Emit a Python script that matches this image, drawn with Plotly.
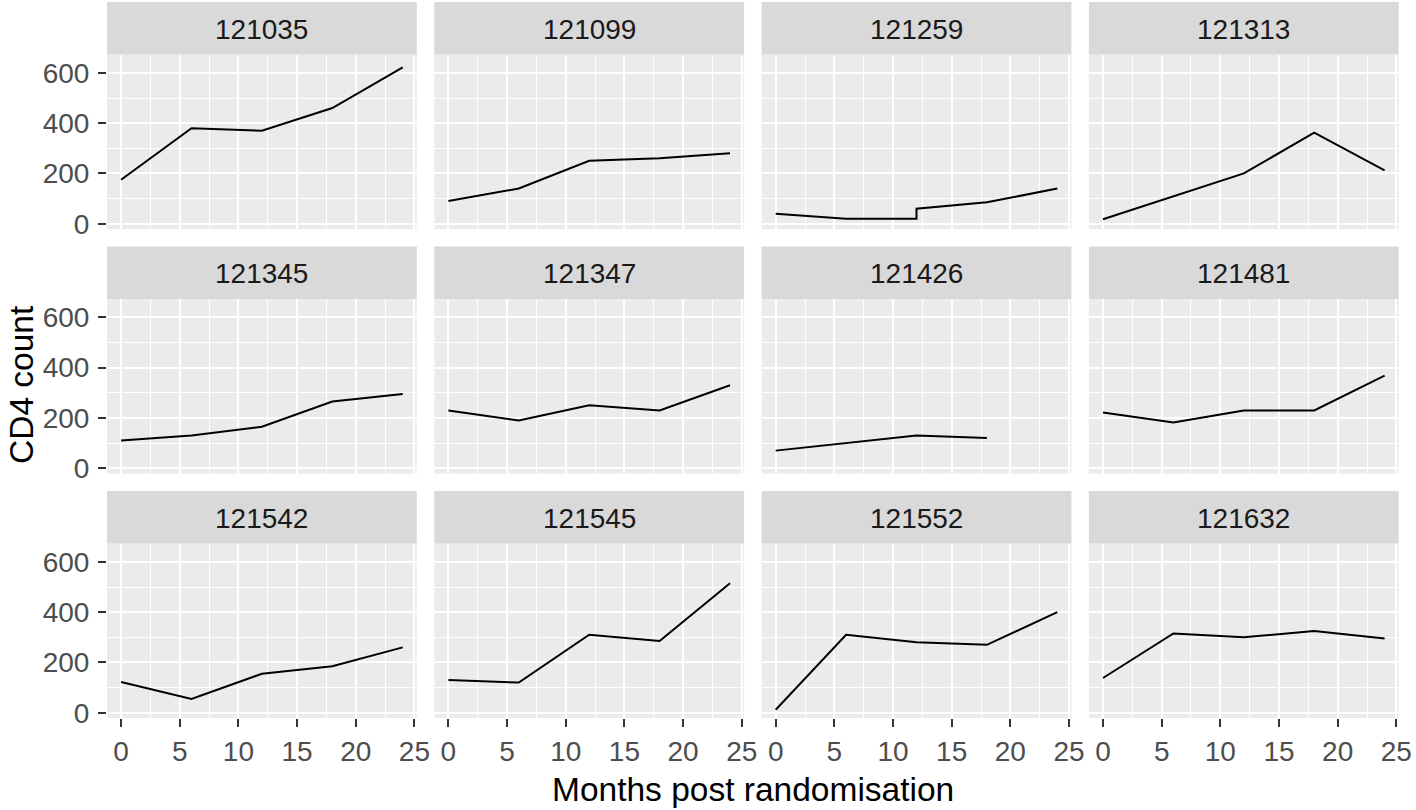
import plotly.graph_objects as go

# ---- data ----
subjects = ["121035", "121099", "121259", "121313",
            "121345", "121347", "121426", "121481",
            "121542", "121545", "121552", "121632"]

months_121035 = [0, 6, 12, 18, 24]
cd4_121035 = [175, 380, 370, 460, 622]
months_121099 = [0, 6, 12, 18, 24]
cd4_121099 = [90, 140, 250, 260, 280]
months_121259 = [0, 6, 12, 12, 18, 24]
cd4_121259 = [40, 20, 20, 60, 85, 140]
months_121313 = [0, 6, 12, 18, 24]
cd4_121313 = [18, 110, 200, 362, 212]
months_121345 = [0, 6, 12, 18, 24]
cd4_121345 = [110, 130, 165, 265, 295]
months_121347 = [0, 6, 12, 18, 24]
cd4_121347 = [230, 190, 250, 230, 330]
months_121426 = [0, 6, 12, 18]
cd4_121426 = [70, 100, 130, 120]
months_121481 = [0, 6, 12, 18, 24]
cd4_121481 = [222, 182, 230, 230, 368]
months_121542 = [0, 6, 12, 18, 24]
cd4_121542 = [122, 55, 155, 185, 260]
months_121545 = [0, 6, 12, 18, 24]
cd4_121545 = [130, 120, 310, 285, 515]
months_121552 = [0, 6, 12, 18, 24]
cd4_121552 = [12, 310, 280, 270, 400]
months_121632 = [0, 6, 12, 18, 24]
cd4_121632 = [138, 315, 300, 325, 295]

series = {
    "121035": (months_121035, cd4_121035),
    "121099": (months_121099, cd4_121099),
    "121259": (months_121259, cd4_121259),
    "121313": (months_121313, cd4_121313),
    "121345": (months_121345, cd4_121345),
    "121347": (months_121347, cd4_121347),
    "121426": (months_121426, cd4_121426),
    "121481": (months_121481, cd4_121481),
    "121542": (months_121542, cd4_121542),
    "121545": (months_121545, cd4_121545),
    "121552": (months_121552, cd4_121552),
    "121632": (months_121632, cd4_121632),
}

x_ticks = [0, 5, 10, 15, 20, 25]
y_ticks = [0, 200, 400, 600]

# ---- layout geometry (pixels of the 1416x810 picture) ----
W, H = 1416, 810
col_left0, col_w, col_gap = 107.0, 309.8, 17.5
row_top0, strip_h, panel_h, row_gap = 2.0, 52.5, 174.5, 17.5


def px(p):
    return p / W


def py(p):
    return 1 - p / H


FONT = "Liberation Sans, Arial, sans-serif"
fig = go.Figure()
shapes = []
annotations = []

for i, subj in enumerate(subjects):
    r, c = divmod(i, 4)
    n = i + 1
    xa = "xaxis" if n == 1 else f"xaxis{n}"
    ya = "yaxis" if n == 1 else f"yaxis{n}"
    xref = "x" if n == 1 else f"x{n}"
    yref = "y" if n == 1 else f"y{n}"

    x0 = col_left0 + c * (col_w + col_gap)
    x1 = x0 + col_w
    st = row_top0 + r * (strip_h + panel_h + row_gap)
    pt = st + strip_h
    pb = pt + panel_h

    mx, vy = series[subj]
    fig.add_trace(go.Scatter(x=mx, y=vy, mode="lines",
                             line=dict(color="black", width=2),
                             xaxis=xref, yaxis=yref, showlegend=False,
                             hoverinfo="skip"))

    show_x = (r == 2)
    show_y = (c == 0)
    fig.layout[xa] = dict(
        domain=[px(x0), px(x1)], anchor=yref, range=[-1.2, 25.2],
        tickvals=x_ticks, showticklabels=show_x,
        ticks="outside" if show_x else "", ticklen=8, tickwidth=2, tickcolor="#333333",
        tickfont=dict(family=FONT, size=28, color="#4D4D4D"),
        showgrid=True, gridcolor="white", gridwidth=2, zeroline=False,
        showline=False, fixedrange=True, automargin=False,
        minor=dict(tickvals=[2.5, 7.5, 12.5, 17.5, 22.5], showgrid=True,
                   gridcolor="white", gridwidth=1, ticks=""),
    )
    fig.layout[ya] = dict(
        domain=[py(pb), py(pt)], anchor=xref, range=[-21, 673],
        tickvals=y_ticks, showticklabels=show_y,
        ticks="outside" if show_y else "", ticklen=8, tickwidth=2, tickcolor="#333333",
        ticklabelstandoff=3,
        tickfont=dict(family=FONT, size=28, color="#4D4D4D"),
        showgrid=True, gridcolor="white", gridwidth=2, zeroline=False,
        showline=False, fixedrange=True, automargin=False,
        minor=dict(tickvals=[100, 300, 500], showgrid=True,
                   gridcolor="white", gridwidth=1, ticks=""),
    )
    # strip
    shapes.append(dict(type="rect", xref="paper", yref="paper",
                       x0=px(x0), x1=px(x1), y0=py(pt), y1=py(st),
                       fillcolor="#D9D9D9", line=dict(width=0), layer="below"))
    annotations.append(dict(text=subj, xref="paper", yref="paper",
                            x=px((x0 + x1) / 2), y=py(st + strip_h / 2 + 1),
                            xanchor="center", yanchor="middle", showarrow=False,
                            font=dict(family=FONT, size=28, color="#1A1A1A")))

annotations.append(dict(text="Months post randomisation", xref="paper", yref="paper",
                        x=px(col_left0 + (4 * col_w + 3 * col_gap) / 2), y=py(789),
                        xanchor="center", yanchor="middle", showarrow=False,
                        font=dict(family=FONT, size=33.5, color="black")))
annotations.append(dict(text="CD4 count", xref="paper", yref="paper",
                        x=px(21), y=py(385), textangle=-90,
                        xanchor="center", yanchor="middle", showarrow=False,
                        font=dict(family=FONT, size=33.5, color="black")))

fig.update_layout(
    width=W, height=H, autosize=False,
    margin=dict(l=0, r=0, t=0, b=0, pad=0, autoexpand=False),
    paper_bgcolor="white", plot_bgcolor="#EBEBEB",
    shapes=shapes, annotations=annotations,
    showlegend=False,
)

# remove the page margin so the figure sits at the window's top-left corner
fit_js = """
document.documentElement.style.margin = '0';
document.body.style.margin = '0';
document.documentElement.style.overflow = 'hidden';
document.body.style.overflow = 'hidden';
"""

fig.write_html("out.html", config={"displayModeBar": False}, post_script=fit_js)
